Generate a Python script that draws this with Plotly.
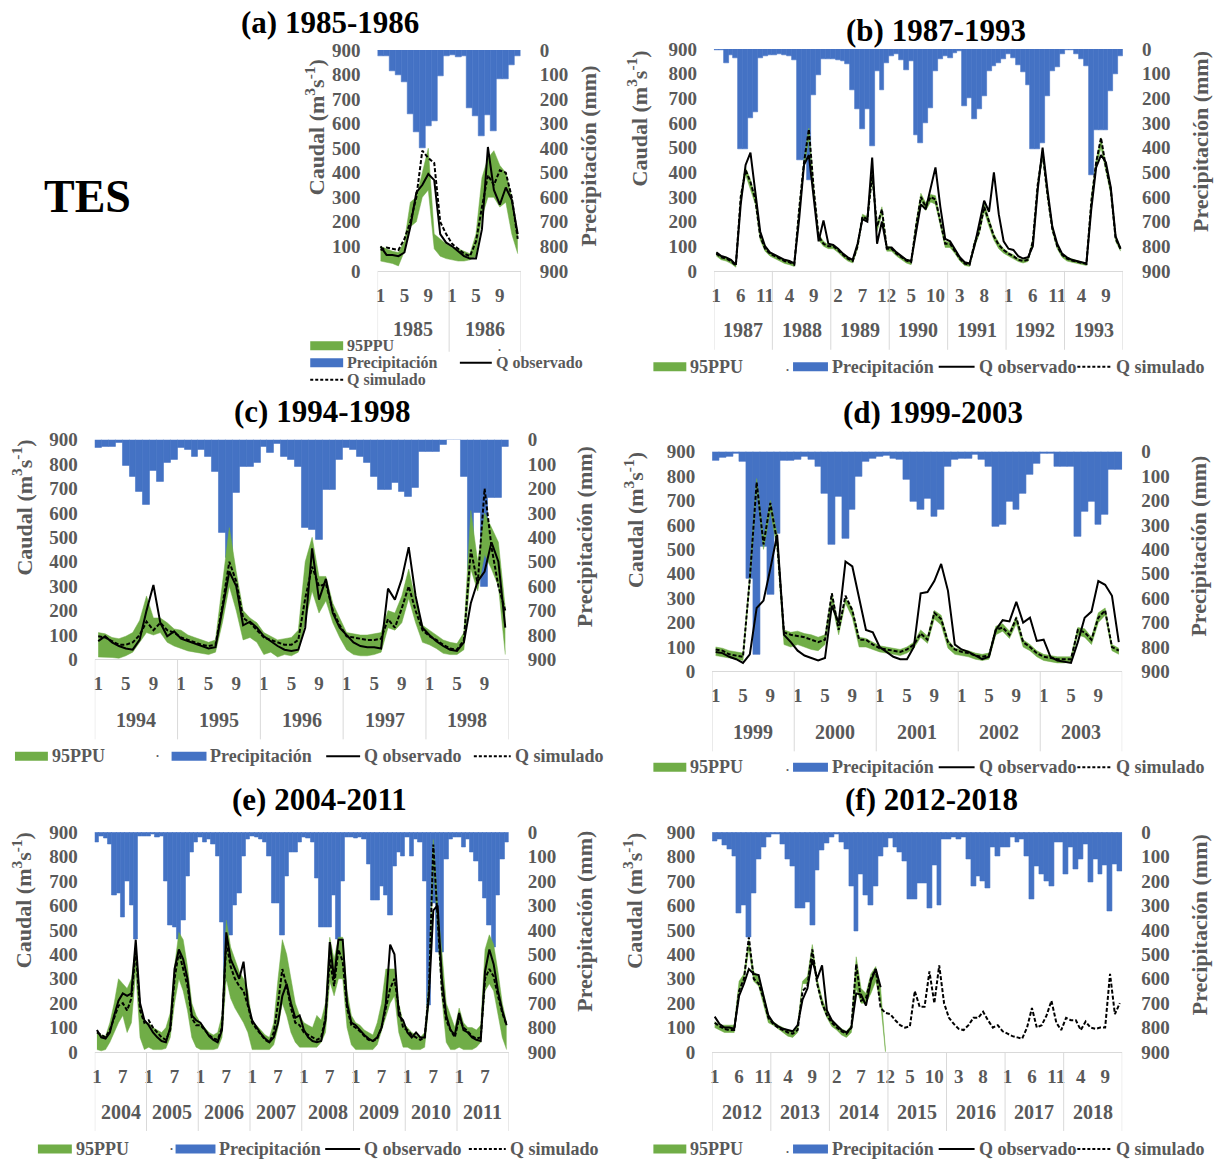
import plotly.graph_objects as go

W, H = 1214, 1163
SERIF = "Liberation Serif"
GRAY = "#595959"
BLUE = "#4472C4"
GREEN = "#70AD47"
DIV = "#d9d9d9"

axis_ticks = [0, 100, 200, 300, 400, 500, 600, 700, 800, 900]

# ---------------- (a) 1985-1986 ----------------
years_a = [1985, 1986]
precip_a = [24, 24, 85, 100, 130, 260, 335, 400, 310, 290, 105, 25,
            20, 30, 25, 235, 270, 350, 265, 330, 120, 120, 60, 25]
q_obs_a = [100, 65, 65, 60, 75, 180, 320, 350, 395, 370, 150, 115,
           100, 80, 60, 50, 50, 170, 505, 330, 270, 340, 290, 150]
q_sim_a = [85, 95, 90, 85, 130, 200, 300, 490, 460, 440, 200, 150,
           110, 90, 70, 60, 120, 260, 390, 350, 410, 400, 300, 130]
ppu_low_a = [40, 35, 30, 20, 80, 180, 200, 300, 330, 90, 60, 50,
             45, 40, 40, 45, 60, 220, 300, 300, 260, 280, 150, 70]
ppu_high_a = [100, 90, 80, 75, 120, 280, 300, 400, 500, 150, 130, 110,
              95, 90, 80, 70, 150, 380, 460, 490, 430, 400, 300, 150]

# ---------------- (b) 1987-1993 ----------------
years_b = [1987, 1988, 1989, 1990, 1991, 1992, 1993]
precip_b = [5, 5, 55, 25, 35, 405, 405, 280, 255, 35, 30, 25,
            25, 20, 25, 30, 45, 450, 450, 530, 185, 105, 40, 40,
            40, 45, 50, 60, 165, 245, 325, 245, 395, 90, 165, 55,
            30, 20, 45, 85, 50, 350, 380, 300, 240, 90, 40, 30,
            35, 15, 10, 230, 200, 285, 245, 190, 90, 70, 55, 40,
            20, 35, 65, 95, 145, 405, 405, 380, 190, 90, 75, 20,
            5, 5, 20, 40, 70, 510, 330, 330, 330, 170, 100, 30]
q_obs_b = [75, 60, 55, 45, 25, 270, 430, 480, 320, 160, 100, 75,
           65, 55, 45, 40, 30, 210, 430, 470, 300, 120, 205, 110,
           105, 90, 70, 55, 45, 110, 210, 200, 460, 110, 200, 95,
           95, 75, 60, 45, 40, 150, 270, 250, 330, 420, 260, 130,
           120, 90, 55, 35, 30, 100, 200, 285, 240, 400, 230, 120,
           90, 85, 60, 50, 55, 100, 330, 500, 330, 180, 110, 70,
           55, 45, 40, 35, 30, 250, 420, 470, 440, 340, 140, 90]
q_sim_b = [70, 55, 50, 40, 22, 300, 410, 360, 290, 140, 90, 70,
           60, 50, 40, 35, 25, 250, 440, 575, 330, 140, 110, 100,
           100, 85, 65, 50, 40, 100, 220, 210, 390, 180, 250, 90,
           90, 70, 55, 42, 35, 180, 300, 260, 300, 290, 200, 110,
           110, 80, 50, 30, 25, 110, 160, 260, 200, 140, 105, 85,
           70, 60, 45, 40, 45, 120, 350, 480, 310, 170, 100, 65,
           50, 42, 38, 32, 28, 280, 440, 540, 420, 330, 130, 90]
ppu_low_b = [60, 45, 40, 30, 15, 280, 390, 330, 270, 125, 80, 60,
             50, 40, 30, 25, 18, 230, 420, 540, 310, 125, 100, 90,
             90, 75, 55, 40, 32, 90, 210, 200, 370, 160, 230, 80,
             80, 60, 45, 32, 25, 165, 285, 245, 280, 270, 185, 95,
             95, 70, 40, 22, 18, 95, 150, 240, 180, 125, 90, 72,
             60, 50, 38, 32, 38, 110, 330, 460, 295, 160, 90, 55,
             40, 35, 30, 25, 22, 260, 420, 500, 400, 310, 120, 80]
ppu_high_b = [75, 60, 55, 45, 28, 310, 420, 370, 300, 150, 95, 72,
              65, 55, 45, 40, 30, 260, 450, 580, 340, 150, 120, 105,
              105, 90, 70, 55, 45, 110, 230, 220, 400, 190, 260, 100,
              95, 75, 60, 48, 40, 195, 315, 275, 310, 305, 210, 120,
              115, 85, 55, 35, 30, 120, 175, 275, 210, 150, 115, 90,
              75, 65, 50, 45, 50, 130, 360, 490, 320, 180, 105, 70,
              55, 48, 42, 36, 32, 300, 450, 540, 430, 340, 140, 95]

# ---------------- (c) 1994-1998 ----------------
years_c = [1994, 1995, 1996, 1997, 1998]
precip_c = [31, 27, 27, 14, 105, 150, 211, 266, 127, 173, 95, 82,
            34, 41, 68, 41, 68, 130, 382, 484, 218, 109, 109, 95,
            27, 55, 18, 68, 82, 109, 362, 368, 409, 205, 205, 82,
            34, 41, 68, 95, 150, 205, 205, 177, 211, 232, 198, 48,
            48, 48, 20, 0, 0, 150, 532, 300, 600, 239, 239, 27]
q_obs_c = [75, 95, 70, 55, 45, 40, 80, 200, 305, 150, 95, 115,
           85, 75, 65, 55, 45, 50, 200, 360, 300, 140, 155, 130,
           95, 75, 55, 40, 35, 40, 130, 455, 245, 330, 190, 130,
           100, 70, 55, 50, 50, 45, 290, 245, 330, 460, 260, 130,
           100, 75, 55, 40, 35, 70, 230, 320, 360, 480, 400, 130]
q_sim_c = [95, 90, 75, 60, 60, 70, 100, 155, 120, 150, 120, 110,
           90, 80, 70, 60, 55, 60, 220, 400, 320, 170, 150, 120,
           90, 80, 70, 60, 60, 80, 250, 380, 300, 310, 200, 140,
           95, 90, 85, 80, 80, 85, 165, 130, 210, 300, 200, 120,
           95, 80, 60, 45, 40, 80, 450, 310, 700, 460, 300, 200]
ppu_low_c = [10, 10, 8, 5, 15, 30, 70, 110, 100, 110, 70, 55,
             45, 35, 30, 25, 20, 30, 150, 300, 200, 80, 90, 70,
             20, 30, 10, 20, 15, 30, 150, 280, 190, 240, 150, 90,
             40, 20, 15, 15, 20, 30, 130, 120, 150, 250, 150, 70,
             60, 45, 25, 20, 20, 40, 370, 280, 430, 370, 300, 20]
ppu_high_c = [110, 105, 90, 85, 95, 110, 160, 260, 170, 170, 150, 125,
              120, 100, 90, 80, 70, 80, 300, 540, 360, 200, 170, 150,
              110, 95, 80, 85, 90, 120, 400, 500, 340, 340, 230, 170,
              110, 105, 100, 100, 105, 110, 200, 190, 260, 370, 240, 140,
              120, 100, 80, 70, 65, 110, 610, 400, 600, 540, 480, 210]

# ---------------- (d) 1999-2003 ----------------
years_d = [1999, 2000, 2001, 2002, 2003]
precip_d = [35, 25, 20, 10, 40, 520, 830, 390, 585, 335, 35, 35,
            34, 20, 34, 61, 170, 382, 184, 355, 239, 102, 41, 27,
            20, 15, 27, 34, 116, 205, 239, 191, 266, 239, 61, 34,
            27, 27, 14, 34, 61, 307, 300, 205, 239, 170, 95, 48,
            7, 7, 61, 61, 61, 348, 245, 205, 300, 259, 75, 75]
q_obs_d = [80, 75, 60, 50, 35, 70, 260, 290, 420, 560, 150, 120,
           85, 65, 55, 45, 55, 270, 200, 450, 430, 300, 170, 160,
           100, 80, 60, 50, 50, 100, 320, 325, 370, 440, 330, 110,
           90, 80, 65, 50, 60, 170, 210, 205, 285, 200, 220, 125,
           130, 60, 45, 40, 35, 120, 220, 245, 370, 355, 310, 120]
q_sim_d = [90, 85, 70, 65, 60, 380, 775, 520, 690, 530, 160, 150,
           145, 140, 130, 120, 130, 320, 170, 310, 250, 130, 130, 110,
           95, 90, 85, 80, 90, 110, 155, 130, 240, 215, 120, 90,
           80, 75, 65, 60, 65, 170, 180, 150, 220, 120, 100, 75,
           60, 55, 50, 50, 50, 170, 160, 130, 220, 250, 100, 85]
ppu_low_d = [65, 60, 55, 50, 45, 360, 760, 500, 660, 500, 110, 100,
             110, 100, 90, 85, 110, 280, 150, 280, 220, 100, 100, 90,
             80, 75, 70, 65, 75, 95, 140, 115, 215, 190, 95, 70,
             65, 60, 50, 45, 50, 150, 165, 135, 195, 100, 85, 60,
             45, 40, 35, 35, 40, 150, 140, 110, 200, 230, 85, 70]
ppu_high_d = [100, 95, 85, 80, 75, 400, 790, 540, 700, 560, 170, 160,
              165, 155, 150, 140, 150, 320, 190, 300, 260, 140, 135, 120,
              105, 100, 95, 90, 100, 120, 170, 145, 250, 230, 130, 95,
              90, 85, 75, 70, 75, 185, 195, 165, 225, 130, 110, 85,
              70, 65, 60, 60, 60, 180, 175, 140, 240, 260, 110, 95]

# ---------------- (e) 2004-2011 ----------------
years_e = [2004, 2005, 2006, 2007, 2008, 2009, 2010, 2011]
precip_e = [40, 15, 25, 50, 260, 250, 350, 200, 300, 440, 15, 15,
            15, 10, 20, 15, 200, 380, 390, 440, 360, 180, 80, 40,
            20, 40, 30, 50, 100, 370, 610, 420, 300, 250, 100, 30,
            15, 20, 30, 40, 100, 290, 290, 420, 180, 80, 80, 40,
            20, 25, 40, 190, 390, 390, 390, 260, 440, 200, 20, 20,
            25, 20, 30, 130, 280, 280, 220, 260, 340, 140, 80, 100,
            20, 100, 30, 40, 200, 710, 290, 490, 490, 110, 30, 20,
            20, 60, 30, 80, 120, 200, 270, 380, 470, 260, 110, 40]
q_obs_e = [90, 60, 55, 80, 150, 210, 240, 230, 240, 460, 200, 130,
           110, 80, 60, 45, 40, 100, 340, 420, 380, 300, 150, 130,
           120, 90, 65, 50, 40, 90, 490, 380, 340, 300, 370, 200,
           130, 100, 75, 55, 40, 60, 120, 230, 280, 200, 140, 150,
           90, 60, 45, 40, 45, 130, 450, 300, 460, 460, 200, 120,
           110, 90, 70, 55, 45, 60, 100, 200, 440, 400, 150, 130,
           80, 60, 80, 60, 60, 230, 580, 600, 300, 150, 90, 70,
           160, 90, 80, 60, 50, 45, 330, 420, 360, 250, 170, 110]
q_sim_e = [80, 70, 60, 90, 140, 190, 200, 170, 220, 420, 170, 120,
           130, 100, 80, 60, 50, 90, 300, 410, 340, 270, 140, 110,
           110, 90, 70, 55, 50, 100, 450, 350, 300, 270, 250, 190,
           120, 95, 70, 50, 40, 80, 200, 340, 270, 180, 120, 110,
           80, 70, 60, 50, 60, 140, 380, 270, 420, 370, 180, 110,
           100, 85, 65, 50, 45, 55, 100, 180, 260, 300, 180, 100,
           90, 70, 60, 50, 60, 250, 850, 550, 250, 130, 90, 60,
           140, 100, 85, 65, 55, 60, 300, 340, 310, 230, 160, 110]
ppu_low_e = [10, 5, 10, 40, 80, 120, 150, 80, 120, 330, 60, 10,
             20, 10, 10, 10, 15, 60, 200, 300, 250, 170, 60, 20,
             10, 10, 10, 10, 15, 60, 300, 220, 180, 150, 120, 80,
             10, 10, 10, 10, 10, 30, 100, 200, 150, 80, 40, 20,
             20, 20, 20, 20, 40, 80, 290, 230, 300, 300, 100, 30,
             10, 10, 10, 10, 10, 30, 90, 150, 200, 230, 80, 20,
             20, 10, 10, 10, 20, 200, 800, 500, 220, 40, 10, 10,
             20, 10, 10, 10, 20, 40, 250, 280, 250, 150, 60, 10]
ppu_high_e = [80, 70, 65, 120, 200, 300, 280, 260, 300, 440, 200, 120,
              120, 100, 90, 80, 100, 160, 350, 490, 460, 350, 200, 150,
              120, 100, 80, 70, 80, 150, 540, 430, 380, 330, 300, 250,
              120, 110, 90, 70, 60, 120, 300, 460, 400, 300, 200, 150,
              120, 110, 100, 150, 130, 200, 470, 380, 470, 470, 250, 150,
              120, 110, 90, 80, 70, 120, 200, 340, 340, 340, 200, 120,
              100, 80, 70, 60, 80, 300, 870, 600, 410, 200, 150, 100,
              180, 120, 100, 100, 90, 110, 420, 480, 440, 330, 200, 120]

# ---------------- (f) 2012-2018 ----------------
years_f = [2012, 2013, 2014, 2015, 2016, 2017, 2018]
precip_f = [35, 30, 55, 70, 100, 330, 300, 430, 250, 110, 60, 20,
            10, 10, 50, 110, 140, 310, 310, 285, 380, 155, 75, 45,
            20, 10, 40, 70, 220, 405, 170, 260, 300, 220, 100, 60,
            25, 60, 80, 120, 275, 275, 210, 210, 310, 135, 300, 30,
            30, 20, 30, 20, 110, 220, 180, 200, 230, 60, 100, 60,
            60, 20, 40, 30, 100, 275, 140, 170, 200, 220, 40, 40,
            170, 60, 150, 110, 50, 205, 110, 170, 135, 325, 130, 160]
# observed flow and 95PPU only available until late 2014
q_obs_f = [145, 115, 100, 100, 95, 230, 280, 340, 320, 315, 230, 150,
           120, 105, 95, 90, 85, 110, 215, 260, 380, 300, 355, 170,
           130, 110, 90, 80, 100, 240, 235, 190, 290, 340, 265]
q_sim_f = [120, 105, 95, 90, 90, 250, 300, 470, 300, 280, 220, 140,
           115, 100, 90, 80, 75, 90, 250, 270, 420, 280, 200, 150,
           120, 100, 85, 75, 100, 360, 210, 220, 300, 340, 180, 160,
           155, 130, 110, 100, 105, 250, 185, 185, 330, 200, 355, 200,
           140, 115, 95, 90, 110, 140, 140, 165, 130, 100, 110, 85,
           75, 65, 60, 55, 100, 180, 100, 110, 150, 210, 120, 90,
           140, 130, 130, 90, 125, 100, 95, 100, 100, 320, 155, 200]
ppu_low_f = [100, 90, 80, 80, 80, 250, 290, 420, 290, 270, 200, 120,
             110, 95, 80, 65, 60, 80, 280, 280, 400, 270, 190, 140,
             105, 90, 70, 60, 80, 260, 200, 200, 240, 290, 200, 0]
ppu_high_f = [125, 110, 110, 110, 110, 290, 320, 460, 330, 310, 240, 150,
              125, 110, 100, 90, 85, 110, 290, 310, 440, 300, 220, 165,
              130, 110, 95, 85, 110, 390, 260, 240, 320, 350, 260, 5]

LEG_B = [("band", 652, 685), ("dot", 786, None), ("bar", 792, 827),
         ("solid", 938, 974), ("dash", 1077, 1112)]

panels = [
    dict(title="(a) 1985-1986", years=years_a, precip=precip_a, obs=q_obs_a,
         sim=q_sim_a, low=ppu_low_a, high=ppu_high_a,
         box=(375.5, 519, 50, 271), step=4, title_xy=(328, 22),
         yl=(313, 127), yr=(587, 156), year_y=329, div_bot=352, leg_size=16,
         legend=[("band", 308, 341, 346), ("dot", 498, None, 347),
                 ("bar", 308, 341, 363), ("solid", 458, 490, 363),
                 ("dash", 308, 341, 380)]),
    dict(title="(b) 1987-1993", years=years_b, precip=precip_b, obs=q_obs_b,
         sim=q_sim_b, low=ppu_low_b, high=ppu_high_b,
         box=(712.7, 1122.7, 49, 271), step=5, title_xy=(935, 30),
         yl=(636, 118), yr=(1200, 142), year_y=330, div_bot=350, leg_size=18,
         legend=[it + (367,) for it in LEG_B]),
    dict(title="(c) 1994-1998", years=years_c, precip=precip_c, obs=q_obs_c,
         sim=q_sim_c, low=ppu_low_c, high=ppu_high_c,
         box=(92, 507, 440, 660), step=4, title_xy=(320, 412),
         yl=(19, 508), yr=(583, 537), year_y=721, div_bot=740, leg_size=18,
         legend=[("band", 12, 45, 757), ("dot", 155, None, 754),
                 ("bar", 169, 204, 757), ("solid", 324, 358, 757),
                 ("dash", 472, 509, 757)]),
    dict(title="(d) 1999-2003", years=years_d, precip=precip_d, obs=q_obs_d,
         sim=q_sim_d, low=ppu_low_d, high=ppu_high_d,
         box=(711, 1122, 452, 672), step=4, title_xy=(932, 413),
         yl=(632, 520), yr=(1199, 547), year_y=733, div_bot=752, leg_size=18,
         legend=[it + (768,) for it in LEG_B]),
    dict(title="(e) 2004-2011", years=years_e, precip=precip_e, obs=q_obs_e,
         sim=q_sim_e, low=ppu_low_e, high=ppu_high_e,
         box=(92, 507, 833, 1053), step=6, title_xy=(317, 800),
         yl=(19, 901), yr=(583, 922), year_y=1113, div_bot=1132, leg_size=18,
         legend=[("band", 35, 69, 1150), ("dot", 169, None, 1147),
                 ("bar", 173, 213, 1150), ("solid", 323, 358, 1150),
                 ("dash", 467, 504, 1150)]),
    dict(title="(f) 2012-2018", years=years_f, precip=precip_f, obs=q_obs_f,
         sim=q_sim_f, low=ppu_low_f, high=ppu_high_f,
         box=(711, 1122, 833, 1053), step=5, title_xy=(931, 800),
         yl=(632, 901), yr=(1199, 926), year_y=1113, div_bot=1132, leg_size=18,
         legend=[it + (1150,) for it in LEG_B]),
]

LEG_TEXT = {"band": "95PPU", "bar": "Precipitación", "solid": "Q observado",
            "dash": "Q simulado", "dot": "."}

# the captured page comes out slightly squeezed vertically; compensate
V_OFF, V_SCALE = 9.85, 0.983


def X(px):
    return px / W


def Y(py):
    return 1 - ((py - V_OFF) / V_SCALE) / H


fig = go.Figure()
annotations = []
shapes = []
layout = {}

tick_font = dict(family=SERIF, size=19, color=GRAY)
bold_ticks = ["<b>%d</b>" % v for v in axis_ticks]

for k, p in enumerate(panels, start=1):
    n = len(p["precip"])
    idx = list(range(n))
    xa = "x" if k == 1 else "x%d" % k
    yb = "y" if k == 1 else "y%d" % (2 * k - 1)
    yc = "y%d" % (2 * k)
    x0, x1, yt, ybt = p["box"]

    fig.add_trace(go.Bar(x=idx, y=p["precip"], xaxis=xa, yaxis=yb, width=1.0,
                         marker=dict(color=BLUE, line=dict(color=BLUE, width=0.6)),
                         showlegend=False, hoverinfo="skip"))
    nl = len(p["low"])
    fig.add_trace(go.Scatter(x=idx[:nl], y=p["low"], xaxis=xa, yaxis=yc, mode="lines",
                             line=dict(color=GREEN, width=0.5), showlegend=False))
    fig.add_trace(go.Scatter(x=idx[:nl], y=p["high"], xaxis=xa, yaxis=yc, mode="lines",
                             line=dict(color=GREEN, width=0.5), fill="tonexty",
                             fillcolor=GREEN, showlegend=False))
    no = len(p["obs"])
    fig.add_trace(go.Scatter(x=idx[:no], y=p["obs"], xaxis=xa, yaxis=yc, mode="lines",
                             line=dict(color="black", width=2), showlegend=False))
    ns = len(p["sim"])
    fig.add_trace(go.Scatter(x=idx[:ns], y=p["sim"], xaxis=xa, yaxis=yc, mode="lines",
                             line=dict(color="black", width=2, dash="4px,2px"),
                             showlegend=False))

    step = p["step"]
    tv = list(range(0, n, step))
    tt = ["<b>%d</b>" % (i % 12 + 1) for i in tv]
    xkey = "xaxis" if k == 1 else "xaxis%d" % k
    ybkey = "yaxis" if k == 1 else "yaxis%d" % (2 * k - 1)
    yckey = "yaxis%d" % (2 * k)
    layout[xkey] = dict(domain=[X(x0), X(x1)], anchor=yb, range=[-0.5, n - 0.5],
                        tickvals=tv, ticktext=tt, tickfont=tick_font, ticks="",
                        showgrid=False, zeroline=False, showline=True,
                        linecolor=DIV, linewidth=1, ticklabelstandoff=7,
                        fixedrange=True)
    layout[ybkey] = dict(domain=[Y(ybt), Y(yt)], anchor=xa, side="right",
                         range=[900, 0], tickvals=axis_ticks, ticktext=bold_ticks,
                         tickfont=tick_font, ticks="", showgrid=False,
                         zeroline=False, showline=False, ticklabelstandoff=18)
    layout[yckey] = dict(overlaying=yb, anchor=xa, side="left", range=[0, 900],
                         tickvals=axis_ticks, ticktext=bold_ticks, tickfont=tick_font,
                         ticks="", showgrid=False, zeroline=False, showline=False,
                         ticklabelstandoff=16)

    # year labels and separators
    for j, yr in enumerate(p["years"]):
        annotations.append(dict(x=12 * j + 5.5, xref=xa, y=Y(p["year_y"]), yref="paper",
                                text="<b>%d</b>" % yr, showarrow=False,
                                font=dict(family=SERIF, size=20, color=GRAY),
                                xanchor="center", yanchor="middle"))
    for j in range(len(p["years"]) + 1):
        xv = 12 * j - 0.5
        shapes.append(dict(type="line", xref=xa, yref="paper", x0=xv, x1=xv,
                           y0=Y(ybt), y1=Y(p["div_bot"]),
                           line=dict(color=DIV, width=1)))

    # titles
    tx, ty = p["title_xy"]
    annotations.append(dict(x=X(tx), y=Y(ty), xref="paper", yref="paper",
                            text="<b>%s</b>" % p["title"], showarrow=False,
                            font=dict(family=SERIF, size=31, color="black"),
                            xanchor="center", yanchor="middle"))
    lx, ly = p["yl"]
    annotations.append(dict(x=X(lx), y=Y(ly), xref="paper", yref="paper",
                            text="<b>Caudal (m<sup>3</sup>s<sup>-1</sup>)</b>",
                            showarrow=False, textangle=-90,
                            font=dict(family=SERIF, size=22, color=GRAY),
                            xanchor="center", yanchor="middle"))
    rx, ry = p["yr"]
    annotations.append(dict(x=X(rx), y=Y(ry), xref="paper", yref="paper",
                            text="<b>Precipitación (mm)</b>",
                            showarrow=False, textangle=-90,
                            font=dict(family=SERIF, size=22, color=GRAY),
                            xanchor="center", yanchor="middle"))

    # legend (drawn manually)
    fs = p["leg_size"]
    for kind, a0, a1, ly_ in p["legend"]:
        if kind == "dot":
            annotations.append(dict(x=X(a0), y=Y(ly_), xref="paper", yref="paper",
                                    text="<b>.</b>", showarrow=False,
                                    font=dict(family=SERIF, size=12, color=GRAY),
                                    xanchor="center", yanchor="middle"))
            continue
        if kind in ("band", "bar"):
            shapes.append(dict(type="rect", xref="paper", yref="paper",
                               x0=X(a0), x1=X(a1), y0=Y(ly_ + 4.5), y1=Y(ly_ - 4.5),
                               fillcolor=GREEN if kind == "band" else BLUE,
                               line=dict(width=0)))
        else:
            shapes.append(dict(type="line", xref="paper", yref="paper",
                               x0=X(a0), x1=X(a1), y0=Y(ly_), y1=Y(ly_),
                               line=dict(color="black", width=2,
                                         dash="solid" if kind == "solid" else "3px,2px")))
        annotations.append(dict(x=X(a1 + 2), y=Y(ly_), xref="paper", yref="paper",
                                text="<b>%s</b>" % LEG_TEXT[kind], showarrow=False,
                                font=dict(family=SERIF, size=fs, color=GRAY),
                                xanchor="left", yanchor="middle"))

annotations.append(dict(x=X(85), y=Y(197), xref="paper", yref="paper",
                        text="<b>TES</b>", showarrow=False,
                        font=dict(family=SERIF, size=46, color="black"),
                        xanchor="center", yanchor="middle"))

fig.update_layout(width=W, height=H, margin=dict(l=0, r=0, t=0, b=0),
                  paper_bgcolor="white", plot_bgcolor="rgba(0,0,0,0)",
                  showlegend=False, bargap=0, annotations=annotations,
                  shapes=shapes, **layout)

POST = ("document.documentElement.style.margin='0px';"
        "document.body.style.margin='0px';")

fig.write_html("out.html", config={"displayModeBar": False, "responsive": False},
               post_script=POST)
